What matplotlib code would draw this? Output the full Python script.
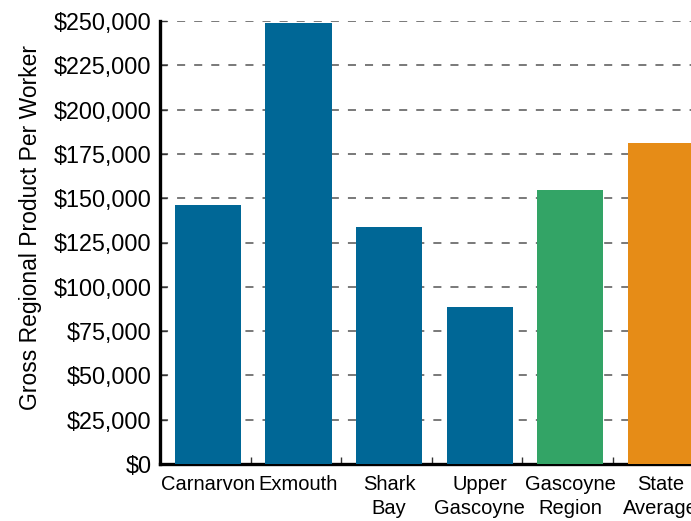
import matplotlib
matplotlib.use("Agg")
import matplotlib.pyplot as plt
from matplotlib.ticker import FuncFormatter
import numpy as np

categories = ["Carnarvon", "Exmouth", "Shark\nBay", "Upper\nGascoyne", "Gascoyne\nRegion", "State\nAverage"]
values = [146000, 249000, 134000, 88600, 154600, 181000]
colors = ["#006796", "#006796", "#006796", "#006796", "#33a466", "#e68c17"]
yticks = list(range(0, 250001, 25000))

plt.rcParams['font.family'] = ['Liberation Sans', 'DejaVu Sans']
plt.rcParams['lines.scale_dashes'] = False

fig = plt.figure(figsize=(6.91, 5.21), dpi=100)
ax = fig.add_axes([160/691, 57/521, 555/691, 443/521])

x = np.arange(len(categories))
ax.bar(x, values, width=0.73, color=colors, zorder=3)

ax.set_xlim(-0.53, 5.6)
ax.set_ylim(0, 250000)
ax.set_yticks(yticks)
ax.yaxis.set_major_formatter(FuncFormatter(lambda v, p: f"${int(v):,}"))
ax.grid(axis='y', color='#555555', linestyle=(0, (5.8, 6.5)), linewidth=1.1, zorder=1)
ax.set_axisbelow(True)

ax.set_xticks(x)
ax.set_xticklabels(categories, fontsize=14.5, linespacing=1.35)
ax.tick_params(axis='x', which='major', length=0, pad=8)
ax.set_xticks(x[:-1] + 0.47, minor=True)
ax.tick_params(axis='x', which='minor', direction='in', length=5, width=1, color='#333333')
ax.tick_params(axis='y', direction='in', length=5, width=1, labelsize=16.8, pad=6, color='#333333')

for s in ['top', 'right']:
    ax.spines[s].set_visible(False)
for s in ['left', 'bottom']:
    ax.spines[s].set_linewidth(2.4)
    ax.spines[s].set_color('black')
    ax.spines[s].set_zorder(2)

ax.set_ylabel("Gross Regional Product Per Worker", fontsize=16.5)
ax.yaxis.set_label_coords(-0.212, 0.533)

fig.savefig("out.png", dpi=100)
